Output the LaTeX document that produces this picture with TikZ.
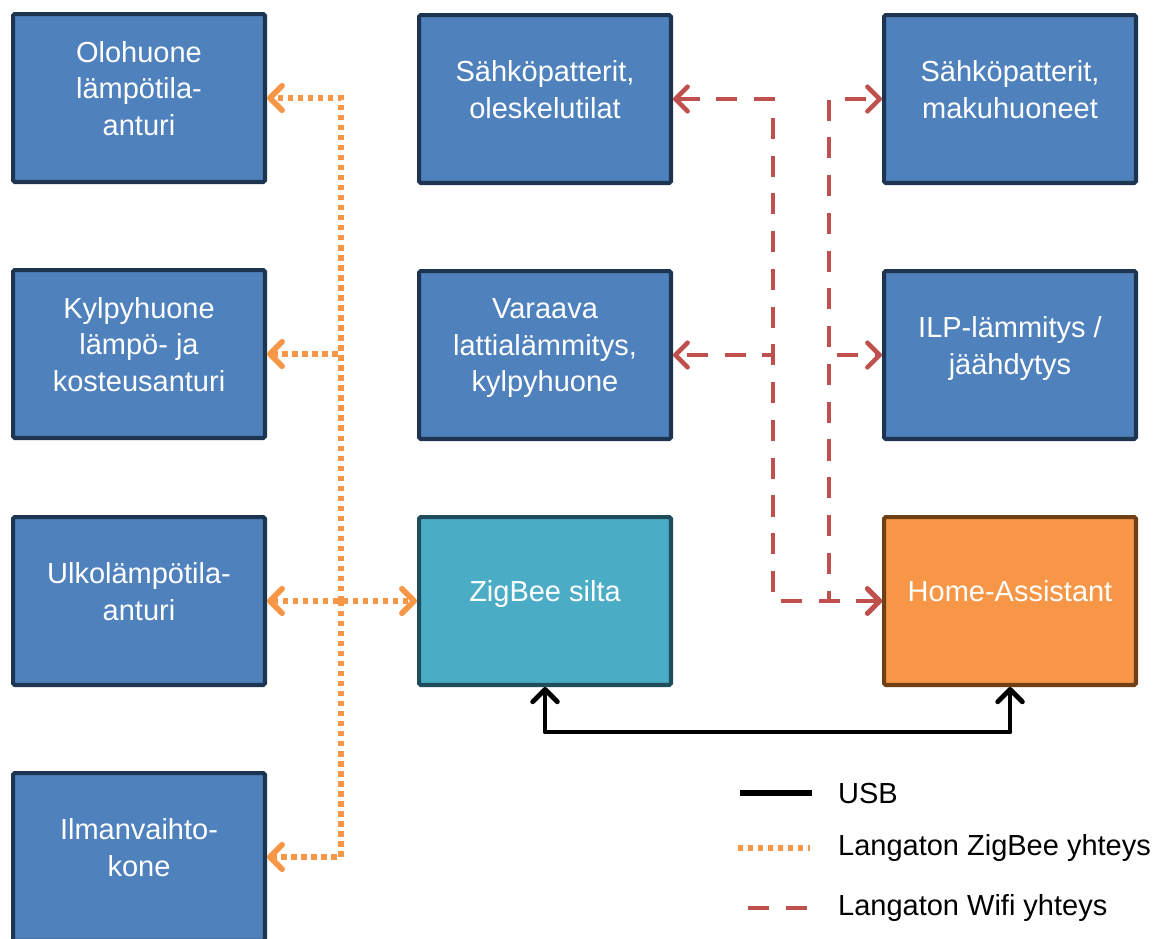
\documentclass[tikz,border=0pt]{standalone}
\usepackage{fontspec}
\setmainfont{Liberation Sans}
\usetikzlibrary{arrows.meta}

\definecolor{boxblue}{HTML}{4F81BD}
\definecolor{boxedge}{HTML}{1D3550}
\definecolor{bridgeteal}{HTML}{4BACC6}
\definecolor{bridgeedge}{HTML}{1F4D5B}
\definecolor{haorange}{HTML}{F79646}
\definecolor{haedge}{HTML}{6F3F15}
\definecolor{zbcol}{HTML}{F79646}
\definecolor{wificol}{HTML}{C0504D}

\tikzset{
    device/.style={draw=boxedge, fill=boxblue, line width=2.3pt, rounded corners=1pt,
        minimum width=5.04cm, minimum height=3.36cm, align=center, text=white,
        font=\fontsize{16.5}{20.7}\selectfont,
        execute at end node={\rule[-11pt]{0pt}{0pt}}},
    legendtext/.style={anchor=west, font=\fontsize{16.5}{20.7}\selectfont},
    >={Straight Barb[length=7pt, width=14pt, line cap=round, line join=round]},
    usb/.style={line width=2.8pt, black, line join=round},
    zigbee/.style={line width=3.2pt, zbcol, dash pattern=on 3pt off 2.7pt},
    wifi/.style={line width=2.6pt, wificol, dash pattern=on 12pt off 9.5pt},
}

\begin{document}
\begin{tikzpicture}[x=0.02cm, y=-0.02cm]
    \useasboundingbox (0,0) rectangle (1155,938);

    % sensors
    \node[device] (olo) at (139,98) {Olohuone\\lämpötila-\\anturi};
    \node[device] (kyl) at (139,354) {Kylpyhuone\\lämpö- ja\\kosteusanturi};
    \node[device] (ulko) at (139,601) {Ulkolämpötila-\\anturi};
    \node[device] (ilv) at (139,857) {Ilmanvaihto-\\kone};

    % heating
    \node[device] (oles) at (545,99) {Sähköpatterit,\\oleskelutilat};
    \node[device] (var) at (545,355) {Varaava\\lattialämmitys,\\kylpyhuone};
    \node[device] (mak) at (1010,99) {Sähköpatterit,\\makuhuoneet};
    \node[device] (ilp) at (1010,355) {ILP-lämmitys /\\jäähdytys};

    \node[device, fill=bridgeteal, draw=bridgeedge] (zb) at (545,601) {ZigBee silta};
    \node[device, fill=haorange, draw=haedge] (ha) at (1010,601) {Home-Assistant};

    % zigbee
    \coordinate (zbelbow) at (341,601);
    \draw[zigbee, <->] (ulko.east) -- (zb.west);
    \draw[zigbee, ->] (zbelbow) |- (olo.east);
    \draw[zigbee, ->] (zbelbow) |- (kyl.east);
    \draw[zigbee, ->] (zbelbow) |- (ilv.east);

    % wifi
    \draw[wifi, <->] (ha.west) -- ++(-109,0) |- (oles.east);
    \draw[wifi, <->] (ha.west) -- ++(-109,0) |- (var.east);
    \draw[wifi, <->] (ha.west) -- ++(-53,0) |- (mak.west);
    \draw[wifi, <->] (ha.west) -- ++(-53,0) |- (ilp.west);

    % usb
    \draw[usb, <->] (zb.south) -- ++(0,45) -| (ha.south);

    % legend
    \coordinate (usbA) at (740,793);
    \coordinate (usbB) at (812,793);
    \coordinate (zbA) at (738,848);
    \coordinate (zbB) at (810,848);
    \coordinate (wfA) at (748,908);
    \coordinate (wfB) at (808,908);
    \draw[usb, line width=3.4pt] (usbA) -- (usbB);
    \draw[zigbee] (zbA) -- (zbB);
    \draw[wifi] (wfA) -- (wfB);
    \node[legendtext] (lusb) at (832,793) {USB};
    \node[legendtext] (lzb) at (832,848) {Langaton ZigBee yhteys};
    \node[legendtext] (lwf) at (832,908) {Langaton Wifi yhteys};
\end{tikzpicture}
\end{document}
